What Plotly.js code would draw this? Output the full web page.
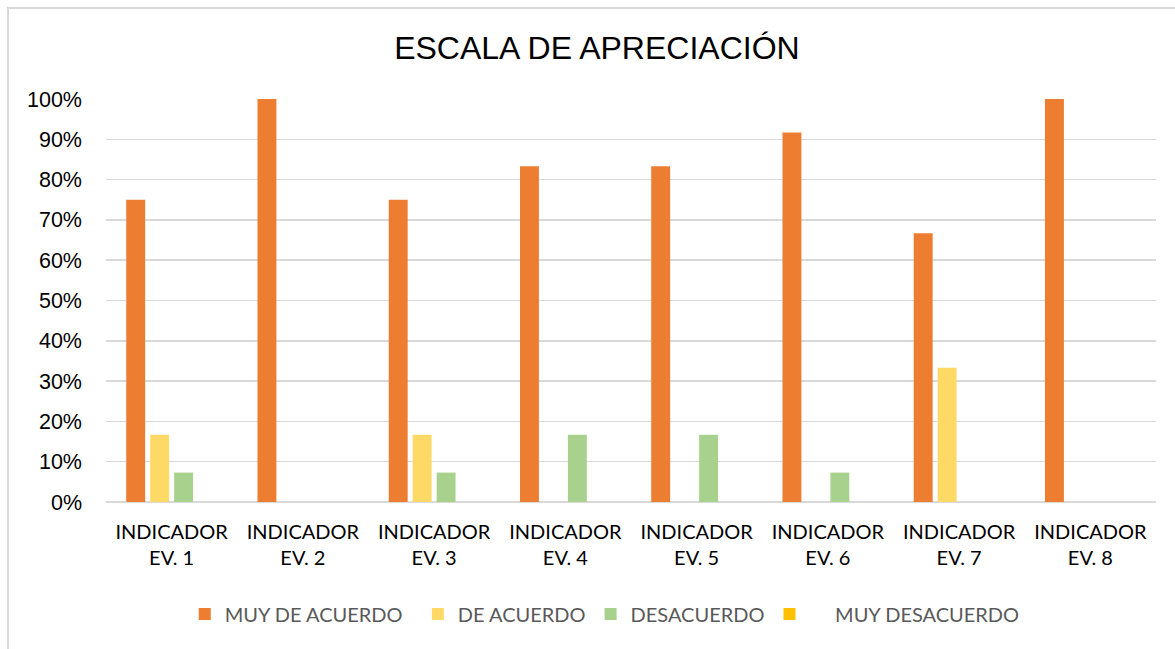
<!DOCTYPE html>
<html>
<head>
<meta charset="utf-8">
<script src="https://cdn.plot.ly/plotly-3.0.1.min.js"></script>
<style>
  html, body { margin: 0; padding: 0; background: #ffffff; overflow: hidden; }
  #frame { position: absolute; left: 7px; top: 7px; width: 1200px; height: 700px;
           border-left: 2px solid #d9d9d9; border-top: 2px solid #d9d9d9; box-sizing: border-box; }
  #chart { position: absolute; left: 0; top: 0; width: 1175px; height: 649px; }
</style>
</head>
<body>
<div id="frame"></div>
<div id="chart"></div>
<script>
const categories = ["INDICADOR<br>EV. 1", "INDICADOR<br>EV. 2", "INDICADOR<br>EV. 3", "INDICADOR<br>EV. 4",
                    "INDICADOR<br>EV. 5", "INDICADOR<br>EV. 6", "INDICADOR<br>EV. 7", "INDICADOR<br>EV. 8"];
const muyDeAcuerdo   = [75, 100, 75, 83.33, 83.33, 91.67, 66.67, 100];
const deAcuerdo      = [16.67, 0, 16.67, 0, 0, 0, 33.33, 0];
const desacuerdo     = [7.3, 0, 7.3, 16.67, 16.67, 7.3, 0, 0];
const muyDesacuerdo  = [0, 0, 0, 0, 0, 0, 0, 0];
const seriesNames = ["MUY DE ACUERDO\u00a0\u00a0", "DE ACUERDO", "DESACUERDO", "\u00a0\u00a0\u00a0\u00a0\u00a0MUY DESACUERDO"];
const seriesColors = ["#ED7D31", "#FFD966", "#A9D18E", "#FFC000"];
const seriesValues = [muyDeAcuerdo, deAcuerdo, desacuerdo, muyDesacuerdo];

const traces = seriesValues.map((vals, i) => ({
  type: "bar",
  name: seriesNames[i],
  x: categories,
  y: vals,
  marker: { color: seriesColors[i], line: { width: 0 } },
  hoverinfo: "x+y+name"
}));

const layout = {
  width: 1175,
  height: 649,
  paper_bgcolor: "rgba(0,0,0,0)",
  plot_bgcolor: "rgba(0,0,0,0)",
  margin: { l: 106, r: 19, t: 99, b: 147 },
  barmode: "group",
  bargap: 0.27,
  bargroupgap: 0.21,
  title: {
    text: "ESCALA DE APRECIACIÓN",
    font: { family: "Liberation Sans, Arial, sans-serif", size: 32, color: "#000000" },
    x: 0.508, xanchor: "center",
    y: 0.927, yanchor: "middle"
  },
  xaxis: {
    type: "category",
    tickfont: { family: "Lato, Open Sans, sans-serif", size: 20, color: "#000000" },
    showgrid: false,
    showline: false,
    ticks: "",
    ticklabelstandoff: 16
  },
  yaxis: {
    range: [0, 100],
    dtick: 10,
    ticksuffix: "%",
    tickfont: { family: "Liberation Sans, Arial, sans-serif", size: 21.5, color: "#000000" },
    showgrid: true,
    gridcolor: "#d9d9d9",
    gridwidth: 1.5,
    zeroline: true,
    zerolinecolor: "#d9d9d9",
    zerolinewidth: 1.5,
    showline: false,
    ticks: "",
    ticklabelstandoff: 23
  },
  showlegend: true,
  legend: {
    orientation: "h",
    x: 0.475, xanchor: "center",
    y: -0.278, yanchor: "middle",
    font: { family: "Lato, Open Sans, sans-serif", size: 20, color: "#595959" },
    bgcolor: "rgba(0,0,0,0)"
  }
};

Plotly.newPlot("chart", traces, layout, { displayModeBar: false, staticPlot: true });
</script>
</body>
</html>
